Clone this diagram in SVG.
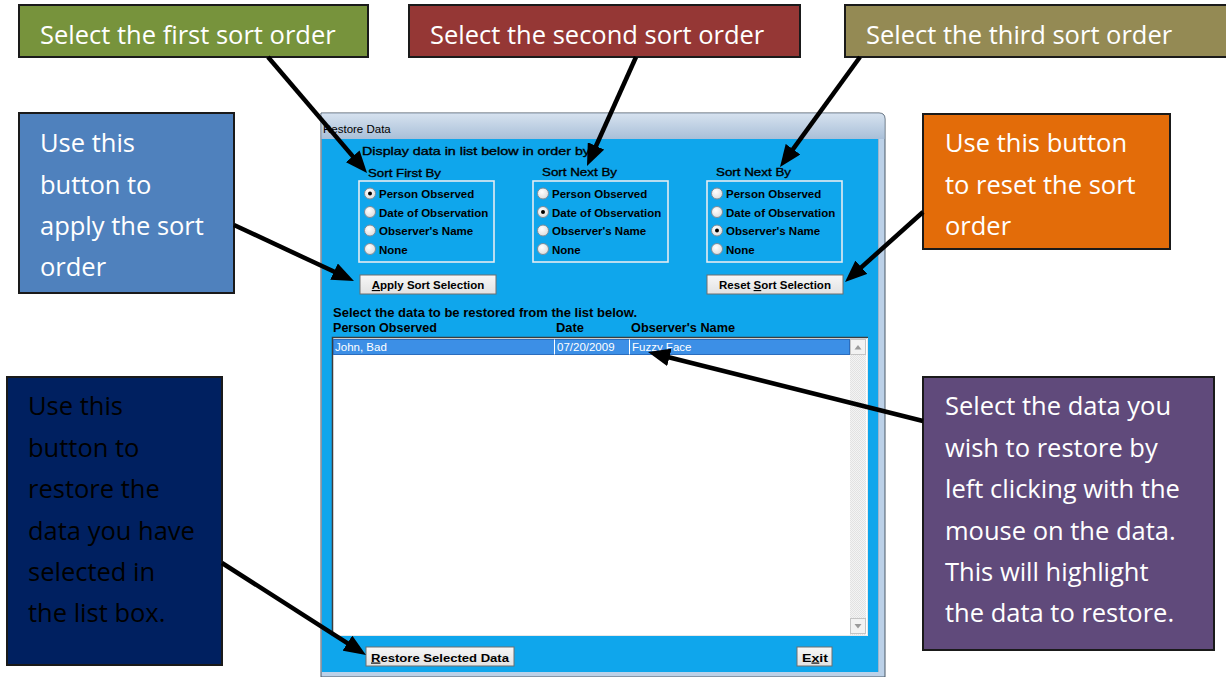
<svg xmlns="http://www.w3.org/2000/svg" width="1226" height="677" viewBox="0 0 1226 677">
  <style>
    .callout { stroke: #1a1a1a; stroke-width: 2; }
    .ctext { font-family: "Open Sans", "Noto Sans", sans-serif; font-size: 25.5px; fill: #ffffff; }
    .ctext.dark { fill: #000000; }
    .ui { font-family: "Liberation Sans", Arial, sans-serif; font-size: 11.5px; fill: #000000; }
    .med { stroke: #000000; stroke-width: 0.35; }
    .uib { font-family: "Liberation Sans", Arial, sans-serif; font-size: 11.5px; font-weight: bold; fill: #000000; }
    .hdr { font-size: 12.8px; }
    .sel { fill: #ffffff; }
    .grp { fill: none; stroke: #E4ECF2; stroke-width: 1.6; }
    .radio { fill: url(#radioFill); stroke: #7D8C99; stroke-width: 1; }
    .dot { fill: #000000; }
    .btn { fill: url(#btnFill); stroke: #6E6E6E; stroke-width: 1; }
    .conn { stroke: #000000; stroke-width: 4.5; fill: none; marker-end: url(#head); }
  </style>
  <defs>
    <marker id="head" markerUnits="userSpaceOnUse" viewBox="0 0 22 18" markerWidth="22" markerHeight="18" refX="11" refY="9" orient="auto">
      <path d="M0,0 L22,9 L0,18 z" fill="#000000"/>
    </marker>
    <linearGradient id="titleFill" x1="0" y1="0" x2="0" y2="1">
      <stop offset="0" stop-color="#D6E2EF"/>
      <stop offset="1" stop-color="#A9BFD8"/>
    </linearGradient>
    <radialGradient id="radioFill" cx="0.4" cy="0.35" r="0.7">
      <stop offset="0" stop-color="#FFFFFF"/>
      <stop offset="1" stop-color="#DCDCDC"/>
    </radialGradient>
    <linearGradient id="btnFill" x1="0" y1="0" x2="0" y2="1">
      <stop offset="0" stop-color="#F7F7F7"/>
      <stop offset="1" stop-color="#E2E2E2"/>
    </linearGradient>
    <pattern id="hatch" width="2" height="2" patternUnits="userSpaceOnUse">
      <rect width="2" height="2" fill="#F4F4F4"/>
      <rect width="1" height="1" fill="#E2E2E2"/>
      <rect x="1" y="1" width="1" height="1" fill="#E2E2E2"/>
    </pattern>
  </defs>

  <rect width="1226" height="677" fill="#ffffff"/>

  <!-- Restore Data dialog window -->
  <g id="dialog">
    <path d="M321,677 L321,113 L879,113 Q885,113 885,119 L885,677 Z" fill="#BCD1E8" stroke="#4A5866" stroke-width="1"/>
    <path d="M321.5,113.5 L879,113.5 Q884.5,113.5 884.5,119 L884.5,139 L321.5,139 Z" fill="url(#titleFill)"/>
    <text class="ui" x="323" y="133" font-size="11px">Restore Data</text>
    <rect x="322" y="139" width="556" height="533" fill="#0FA6EC"/>
    <line x1="878.5" y1="139" x2="878.5" y2="672" stroke="#9FB6CC" stroke-width="1"/>

    <text class="ui med" x="362" y="155" font-size="13px" textLength="232" lengthAdjust="spacingAndGlyphs">Display data in list below in order by:</text>

    <!-- sort group 1 -->
    <g id="sort-first">
      <text class="ui med" x="368" y="177" font-size="13px" textLength="73" lengthAdjust="spacingAndGlyphs">Sort First By</text>
      <rect class="grp" x="359" y="181" width="135" height="81"/>
      <circle class="radio" cx="370" cy="193.5" r="5.5"/><circle class="dot" cx="370" cy="193.5" r="2"/>
      <circle class="radio" cx="370" cy="212" r="5.5"/>
      <circle class="radio" cx="370" cy="230.5" r="5.5"/>
      <circle class="radio" cx="370" cy="249" r="5.5"/>
      <text class="uib" x="379" y="198">Person Observed</text>
      <text class="uib" x="379" y="216.5">Date of Observation</text>
      <text class="uib" x="379" y="235">Observer's Name</text>
      <text class="uib" x="379" y="253.5">None</text>
    </g>

    <!-- sort group 2 -->
    <g id="sort-second">
      <text class="ui med" x="542" y="176" font-size="13px" textLength="75" lengthAdjust="spacingAndGlyphs">Sort Next By</text>
      <rect class="grp" x="533" y="181" width="135" height="81"/>
      <circle class="radio" cx="543" cy="193.5" r="5.5"/>
      <circle class="radio" cx="543" cy="212" r="5.5"/><circle class="dot" cx="543" cy="212" r="2"/>
      <circle class="radio" cx="543" cy="230.5" r="5.5"/>
      <circle class="radio" cx="543" cy="249" r="5.5"/>
      <text class="uib" x="552" y="198">Person Observed</text>
      <text class="uib" x="552" y="216.5">Date of Observation</text>
      <text class="uib" x="552" y="235">Observer's Name</text>
      <text class="uib" x="552" y="253.5">None</text>
    </g>

    <!-- sort group 3 -->
    <g id="sort-third">
      <text class="ui med" x="716" y="176" font-size="13px" textLength="75" lengthAdjust="spacingAndGlyphs">Sort Next By</text>
      <rect class="grp" x="707" y="181" width="135" height="81"/>
      <circle class="radio" cx="717" cy="193.5" r="5.5"/>
      <circle class="radio" cx="717" cy="212" r="5.5"/>
      <circle class="radio" cx="717" cy="230.5" r="5.5"/><circle class="dot" cx="717" cy="230.5" r="2"/>
      <circle class="radio" cx="717" cy="249" r="5.5"/>
      <text class="uib" x="726" y="198">Person Observed</text>
      <text class="uib" x="726" y="216.5">Date of Observation</text>
      <text class="uib" x="726" y="235">Observer's Name</text>
      <text class="uib" x="726" y="253.5">None</text>
    </g>

    <g id="btn-apply">
      <rect class="btn" x="360" y="275" width="136" height="19"/>
      <text class="uib" x="428" y="289" text-anchor="middle"><tspan text-decoration="underline">A</tspan>pply Sort Selection</text>
    </g>
    <g id="btn-reset">
      <rect class="btn" x="707" y="275" width="136" height="19"/>
      <text class="uib" x="775" y="289" text-anchor="middle">Reset <tspan text-decoration="underline">S</tspan>ort Selection</text>
    </g>

    <text class="uib hdr" x="333" y="317" textLength="304" lengthAdjust="spacingAndGlyphs">Select the data to be restored from the list below.</text>
    <text class="uib hdr" x="333" y="332" textLength="104" lengthAdjust="spacingAndGlyphs">Person Observed</text>
    <text class="uib hdr" x="556" y="332" textLength="28" lengthAdjust="spacingAndGlyphs">Date</text>
    <text class="uib hdr" x="631" y="332" textLength="104" lengthAdjust="spacingAndGlyphs">Observer's Name</text>

    <!-- data list -->
    <g id="data-list">
      <rect x="332" y="337" width="536" height="299" fill="#ffffff"/>
      <path d="M332.5,636 L332.5,337.5 L868,337.5" fill="none" stroke="#3C3C3C" stroke-width="1.5"/>
      <path d="M867.5,338 L867.5,635.5 L333,635.5" fill="none" stroke="#E8E8E8" stroke-width="1"/>
      <rect x="333.5" y="339.5" width="516" height="15" fill="#3C8FE6" stroke="#2B6DBE" stroke-width="1"/>
      <line x1="554.5" y1="339.5" x2="554.5" y2="354.5" stroke="#ffffff" stroke-width="1"/>
      <line x1="629.5" y1="339.5" x2="629.5" y2="354.5" stroke="#ffffff" stroke-width="1"/>
      <text class="ui sel" x="335" y="351" font-size="12px">John, Bad</text>
      <text class="ui sel" x="557" y="351" font-size="12px">07/20/2009</text>
      <text class="ui sel" x="632" y="351" font-size="12px">Fuzzy Face</text>
      <!-- scrollbar -->
      <rect x="850" y="339" width="16" height="296" fill="url(#hatch)"/>
      <rect x="850.5" y="339.5" width="15" height="15" fill="#F2F2F2" stroke="#C4C4C4"/>
      <path d="M854.5,349.5 L858,345 L861.5,349.5 Z" fill="#9A9A9A"/>
      <rect x="850.5" y="618.5" width="15" height="15" fill="#F2F2F2" stroke="#C4C4C4"/>
      <path d="M854.5,624 L858,628.5 L861.5,624 Z" fill="#9A9A9A"/>
    </g>

    <g id="btn-restore">
      <rect class="btn" x="366" y="647" width="148" height="19"/>
      <text class="uib" x="371" y="661.5" font-size="13px" textLength="138" lengthAdjust="spacingAndGlyphs"><tspan text-decoration="underline">R</tspan>estore Selected Data</text>
    </g>
    <g id="btn-exit">
      <rect class="btn" x="797" y="647" width="35" height="19"/>
      <text class="uib" x="802" y="661.5" font-size="13px" textLength="26" lengthAdjust="spacingAndGlyphs">E<tspan text-decoration="underline">x</tspan>it</text>
    </g>
  </g>

  <!-- callouts -->
  <g id="callout-first">
    <rect class="callout" x="19" y="5" width="349" height="52" fill="#77933C"/>
    <text class="ctext" x="40" y="44">Select the first sort order</text>
  </g>
  <g id="callout-second">
    <rect class="callout" x="409" y="5" width="391" height="52" fill="#953735"/>
    <text class="ctext" x="430" y="44">Select the second sort order</text>
  </g>
  <g id="callout-third">
    <rect class="callout" x="845" y="5" width="384" height="52" fill="#948A54"/>
    <text class="ctext" x="866" y="44">Select the third sort order</text>
  </g>
  <g id="callout-apply">
    <rect class="callout" x="19" y="113" width="215" height="180" fill="#4F81BD"/>
    <text class="ctext" x="40" y="152">Use this</text>
    <text class="ctext" x="40" y="193.5">button to</text>
    <text class="ctext" x="40" y="235">apply the sort</text>
    <text class="ctext" x="40" y="276">order</text>
  </g>
  <g id="callout-reset">
    <rect class="callout" x="923" y="114" width="247" height="135" fill="#E36C09"/>
    <text class="ctext" x="945" y="152">Use this button</text>
    <text class="ctext" x="945" y="193.5">to reset the sort</text>
    <text class="ctext" x="945" y="235">order</text>
  </g>
  <g id="callout-restore">
    <rect class="callout" x="7" y="377" width="215" height="288" fill="#002060"/>
    <text class="ctext dark" x="28" y="415">Use this</text>
    <text class="ctext dark" x="28" y="456.5">button to</text>
    <text class="ctext dark" x="28" y="498">restore the</text>
    <text class="ctext dark" x="28" y="539.5">data you have</text>
    <text class="ctext dark" x="28" y="581">selected in</text>
    <text class="ctext dark" x="28" y="622">the list box.</text>
  </g>
  <g id="callout-select">
    <rect class="callout" x="923" y="377" width="291" height="273" fill="#604A7B"/>
    <text class="ctext" x="945" y="415">Select the data you</text>
    <text class="ctext" x="945" y="456.5">wish to restore by</text>
    <text class="ctext" x="945" y="498">left clicking with the</text>
    <text class="ctext" x="945" y="539.5">mouse on the data.</text>
    <text class="ctext" x="945" y="581">This will highlight</text>
    <text class="ctext" x="945" y="622">the data to restore.</text>
  </g>

  <!-- connectors -->
  <g id="connectors">
    <line class="conn" x1="268" y1="57" x2="359.9" y2="164.6"/>
    <line class="conn" x1="636" y1="57" x2="591.5" y2="156"/>
    <line class="conn" x1="860" y1="57" x2="786.5" y2="158.1"/>
    <line class="conn" x1="234" y1="225" x2="344" y2="276.3"/>
    <line class="conn" x1="923" y1="212" x2="853.2" y2="274.6"/>
    <line class="conn" x1="222" y1="563" x2="356.7" y2="649.1"/>
    <line class="conn" x1="923" y1="421" x2="658.7" y2="354.7"/>
  </g>
</svg>
